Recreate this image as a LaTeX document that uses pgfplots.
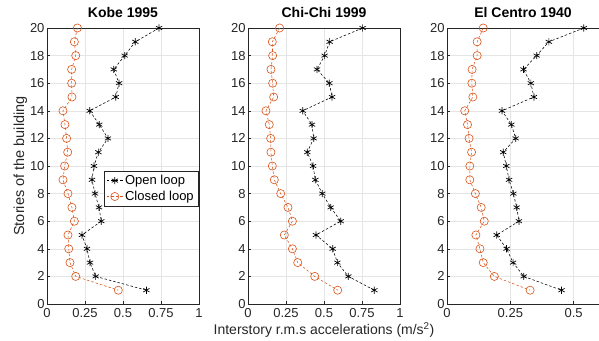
\documentclass[border=0pt]{standalone}
\usepackage{pgfplots}
\usepackage{pgfplotstable}
\pgfplotsset{compat=1.18}
\usepackage{fontspec}
\setmainfont{Liberation Sans}
\definecolor{mlorange}{rgb}{0.85,0.325,0.098}
\definecolor{axgray}{rgb}{0.15,0.15,0.15}

\pgfplotstableread{
story open closed
20 0.737 0.200
19 0.581 0.180
18 0.511 0.189
17 0.439 0.162
16 0.474 0.162
15 0.452 0.164
14 0.281 0.105
13 0.344 0.118
12 0.401 0.129
11 0.338 0.136
10 0.309 0.116
9 0.296 0.105
8 0.316 0.138
7 0.342 0.164
6 0.357 0.180
5 0.230 0.138
4 0.263 0.143
3 0.283 0.151
2 0.320 0.189
1 0.654 0.469
}\kobe

\pgfplotstableread{
story open closed
20 0.754 0.208
19 0.537 0.160
18 0.504 0.162
17 0.454 0.151
16 0.535 0.162
15 0.553 0.169
14 0.360 0.118
13 0.421 0.140
12 0.432 0.149
11 0.390 0.151
10 0.428 0.160
9 0.443 0.173
8 0.489 0.215
7 0.544 0.263
6 0.610 0.292
5 0.447 0.239
4 0.557 0.292
3 0.588 0.327
2 0.660 0.439
1 0.831 0.590
}\chichi

\pgfplotstableread{
story open closed
20 0.540 0.143
19 0.402 0.119
18 0.354 0.119
17 0.302 0.099
16 0.331 0.098
15 0.343 0.102
14 0.217 0.070
13 0.254 0.081
12 0.271 0.087
11 0.222 0.097
10 0.234 0.090
9 0.245 0.090
8 0.262 0.112
7 0.275 0.135
6 0.284 0.147
5 0.196 0.114
4 0.235 0.130
3 0.261 0.143
2 0.303 0.187
1 0.452 0.328
}\elcentro

\pgfplotsset{
  panel/.style={
    scale only axis, width=152bp, height=276bp,
    xmin=0, ymin=0, ymax=20,
    ytick={0,2,...,20},
    grid=major, major grid style={black!10, line width=0.5pt},
    axis line style={axgray, line width=0.6pt},
    tick style={axgray, line width=0.5pt},
    tick align=inside, major tick length=3pt,
    ticklabel style={font=\fontsize{13bp}{15bp}\selectfont, text=axgray},
    yticklabel style={xshift=1bp},
    xticklabel style={yshift=-1bp},
    /pgf/number format/assume math mode=true,
    title style={font=\bfseries\fontsize{14bp}{16bp}\selectfont, yshift=1bp},
    xtick pos=bottom, ytick pos=left,
  },
  openl/.style={black, dash pattern=on 2.5pt off 2pt, line width=0.55pt, mark=asterisk, mark size=3.6pt, mark options={solid, line width=0.7pt}},
  closedl/.style={mlorange, dash pattern=on 2.5pt off 2pt, line width=0.55pt, mark=o, mark size=4.1pt, mark options={solid, line width=0.6pt}},
}

\begin{document}
\begin{tikzpicture}[x=1bp,y=1bp]
\useasboundingbox (0,0) rectangle (599,340);
\begin{axis}[panel, at={(47bp,36bp)}, anchor=south west,
  xmax=1, xtick={0,0.25,0.5,0.75,1}, xticklabels={0,0.25,0.5,0.75,1},
  title={Kobe 1995},
  ylabel={Stories of the building},
  ylabel style={font=\fontsize{14.5bp}{16bp}\selectfont, text=axgray, yshift=-4bp},
  legend style={at={(rel axis cs:0.993,0.482)}, anchor=north east, font=\fontsize{13bp}{15bp}\selectfont, draw=axgray, fill=white, inner sep=2pt, row sep=1pt, legend cell align=left},
  legend image code/.code={\draw[mark repeat=2,mark phase=2] plot coordinates {(0bp,0bp) (8bp,0bp) (16bp,0bp)};},
]
\addplot[openl] table[x=open, y=story] {\kobe};
\addlegendentry{Open loop}
\addplot[closedl] table[x=closed, y=story] {\kobe};
\addlegendentry{Closed loop}
\end{axis}

\begin{axis}[panel, at={(248bp,36bp)}, anchor=south west,
  xmax=1, xtick={0,0.25,0.5,0.75,1}, xticklabels={0,0.25,0.5,0.75,1},
  title={Chi-Chi 1999},
  xlabel={Interstory r.m.s accelerations (m/s\textsuperscript{2})},
  xlabel style={font=\fontsize{14bp}{16bp}\selectfont, text=axgray, yshift=2bp},
]
\addplot[openl] table[x=open, y=story] {\chichi};
\addplot[closedl] table[x=closed, y=story] {\chichi};
\end{axis}

\begin{axis}[panel, at={(447bp,36bp)}, anchor=south west,
  xmax=0.6, xtick={0,0.25,0.5}, xticklabels={0,0.25,0.5},
  title={El Centro 1940},
]
\addplot[openl] table[x=open, y=story] {\elcentro};
\addplot[closedl] table[x=closed, y=story] {\elcentro};
\end{axis}
\end{tikzpicture}
\end{document}
